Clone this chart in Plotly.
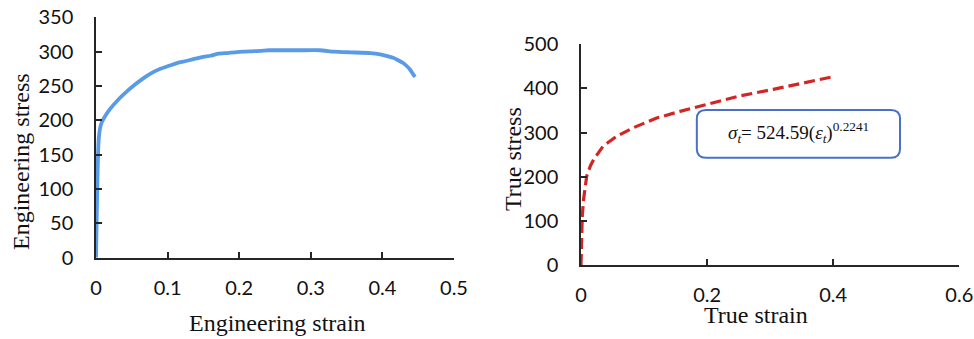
import plotly.graph_objects as go

# ---- data ----
eng_strain = [0.0, 0.001, 0.002, 0.003, 0.004, 0.0056, 0.008, 0.0126, 0.020, 0.031, 0.042, 0.0545,
              0.066, 0.078, 0.090, 0.101, 0.112, 0.124, 0.136, 0.148, 0.160, 0.171, 0.183,
              0.194, 0.206, 0.218, 0.230, 0.241, 0.262, 0.285, 0.313, 0.332, 0.355, 0.383,
              0.397, 0.407, 0.415, 0.422, 0.429, 0.435, 0.4385, 0.4455]
eng_stress = [0, 60, 115, 155, 175, 188, 197, 206, 217, 230, 241, 252,
              261, 269, 275, 279, 283, 286, 289, 292, 294, 297, 298,
              299, 300, 300.5, 301, 302, 302, 302, 302, 300, 299, 298,
              296, 293.5, 291, 287.5, 283.5, 278, 274, 263]

true_strain = [0.0, 0.0005, 0.001, 0.002, 0.004, 0.009, 0.015, 0.020, 0.035, 0.057, 0.083,
               0.120, 0.157, 0.199, 0.252, 0.305, 0.358, 0.398]
true_stress = [0, 40, 72, 110, 148, 201, 225, 239, 269, 292, 311,
               333, 348, 364, 383, 398, 413, 426]

eng_xticks = [0, 0.1, 0.2, 0.3, 0.4, 0.5]
eng_yticks = [0, 50, 100, 150, 200, 250, 300, 350]
true_xticks = [0, 0.2, 0.4, 0.6]
true_yticks = [0, 100, 200, 300, 400, 500]

W, H = 974, 339
AX_COLOR = "#262626"
TICK_FONT = dict(family="Lato, Carlito, 'Liberation Sans', sans-serif", size=20, color="#111111")
TITLE_FONT = dict(family="'Liberation Serif', 'Times New Roman', serif", size=24, color="#111111")

fig = go.Figure()
fig.add_trace(go.Scatter(x=eng_strain, y=eng_stress, mode="lines",
                         line=dict(color="#5A9BE8", width=3.8, shape="spline", smoothing=0.5),
                         xaxis="x", yaxis="y", showlegend=False))
fig.add_trace(go.Scatter(x=true_strain, y=true_stress, mode="lines",
                         line=dict(color="#D42424", width=3.2, dash="11px,5px"),
                         xaxis="x2", yaxis="y2", showlegend=False))

def ax_common():
    return dict(showgrid=False, zeroline=False, showline=True, linecolor=AX_COLOR, linewidth=1.5,
                ticks="inside", ticklen=6, tickwidth=1.5, tickcolor=AX_COLOR,
                tickfont=TICK_FONT, mirror=False, automargin=False, fixedrange=True)

fig.update_layout(
    width=W, height=H, margin=dict(l=0, r=0, t=0, b=0),
    paper_bgcolor="white", plot_bgcolor="white",
    xaxis=dict(domain=[96 / W, 454 / W], anchor="y", range=[0, 0.5],
               tickvals=eng_xticks, ticktext=[f"{v:g}" for v in eng_xticks],
               ticklabelstandoff=12, **ax_common()),
    yaxis=dict(domain=[1 - 257.7 / H, 1 - 17.3 / H], anchor="x", range=[0, 350],
               tickvals=eng_yticks, ticktext=[str(v) for v in eng_yticks],
               ticklabelstandoff=17, **ax_common()),
    xaxis2=dict(domain=[581 / W, 959.3 / W], anchor="y2", range=[0, 0.6],
                tickvals=true_xticks, ticktext=[f"{v:g}" for v in true_xticks],
                ticklabelstandoff=11, **ax_common()),
    yaxis2=dict(domain=[1 - 265 / H, 1 - 44.3 / H], anchor="x2", range=[0, 500],
                tickvals=true_yticks, ticktext=[str(v) for v in true_yticks],
                ticklabelstandoff=17, **ax_common()),
)

# axis titles as annotations (pixel placement)
def pann(text, xc, yc, angle=0):
    fig.add_annotation(text=text, x=xc / W, y=1 - yc / H, xref="paper", yref="paper",
                       showarrow=False, textangle=angle, font=TITLE_FONT,
                       xanchor="center", yanchor="middle")

pann("Engineering strain", 277, 323)
pann("Engineering stress", 21, 162, -90)
pann("True strain", 756, 315)
pann("True stress", 513, 159, -90)

# equation box with rounded corners (in axis-2 data coords)
bx0, bx1, by0, by1 = 0.1837, 0.506, 243, 351
rx = 9 / 630.0
ry = 9 / 0.441
path = (f"M {bx0+rx},{by0} L {bx1-rx},{by0} Q {bx1},{by0} {bx1},{by0+ry} "
        f"L {bx1},{by1-ry} Q {bx1},{by1} {bx1-rx},{by1} "
        f"L {bx0+rx},{by1} Q {bx0},{by1} {bx0},{by1-ry} "
        f"L {bx0},{by0+ry} Q {bx0},{by0} {bx0+rx},{by0} Z")
fig.add_shape(type="path", path=path, xref="x2", yref="y2",
              line=dict(color="#4A6FC9", width=2), fillcolor="white", layer="above")
fig.add_annotation(
    text="<i>σ</i><sub><i>t</i></sub>= 524.59(<i>ε</i><sub><i>t</i></sub>)<sup>0.2241</sup>",
    x=(bx0 + bx1) / 2, y=(by0 + by1) / 2 + 4, xref="x2", yref="y2", showarrow=False,
    font=dict(family="'Liberation Serif', 'DejaVu Serif', serif", size=19, color="#111111"),
    xanchor="center", yanchor="middle")

fig.write_html(
    "out.html",
    config={"displayModeBar": False},
    post_script="document.body.style.margin='0';document.body.style.overflow='hidden';"
                "Plotly.Plots.resize(document.getElementById('{plot_id}'));",
)
